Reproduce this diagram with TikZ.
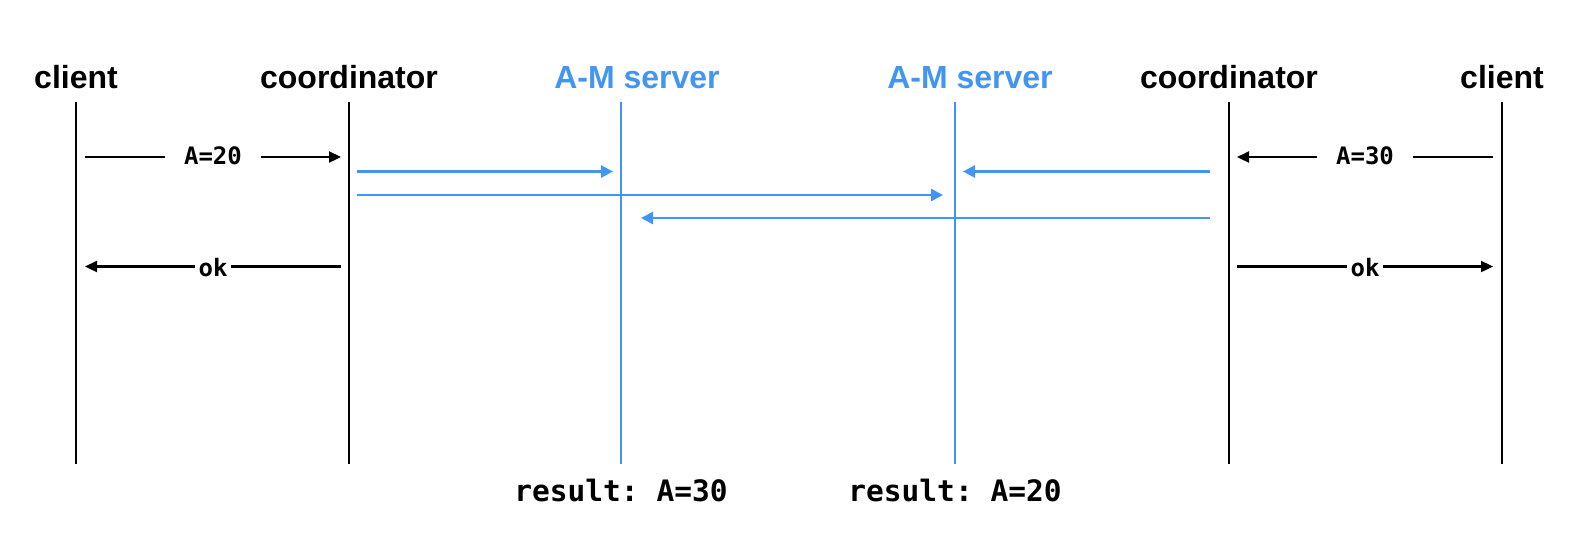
\documentclass[tikz,border=0pt]{standalone}
\usepackage{fontspec}
\usetikzlibrary{arrows.meta}
\newfontfamily\hfont{Liberation Sans}
\newfontfamily\mfont{DejaVu Sans Mono}
\definecolor{srvblue}{RGB}{66,150,242}
\begin{document}
\begin{tikzpicture}[x=1pt,y=-1pt,
  lifeline/.style={line width=2.7pt},
  srvline/.style={line width=2.4pt,draw=srvblue},
  title/.style={anchor=base,inner sep=0pt,font=\hfont\bfseries\fontsize{32}{38}\selectfont},
  srvtitle/.style={title,text=srvblue},
  msg/.style={line width=2.3pt,-{Triangle[length=12pt,width=11pt]}},
  srvmsg/.style={line width=2.8pt,draw=srvblue,-{Triangle[length=12pt,width=12pt]}},
  lbl/.style={fill=white,inner ysep=1pt,font=\mfont\bfseries\fontsize{24}{27}\selectfont},
  result/.style={anchor=base,inner sep=0pt,font=\mfont\bfseries\frenchspacing\fontsize{29.5}{34}\selectfont}
]
\useasboundingbox (0,0) rectangle (1574,550);
% titles
\node[title] (t1) at (76,88) {client};
\node[title] (t2) at (349,88) {coordinator};
\node[srvtitle] (t3) at (637,88) {A-M server};
\node[srvtitle] (t4) at (970,88) {A-M server};
\node[title] (t5) at (1229,88) {coordinator};
\node[title] (t6) at (1502,88) {client};
% lifelines
\coordinate (l1t) at (76,102);   \coordinate (l1b) at (76,464);
\coordinate (l2t) at (349,102);  \coordinate (l2b) at (349,464);
\coordinate (l3t) at (621,102);  \coordinate (l3b) at (621,464);
\coordinate (l4t) at (955,102);  \coordinate (l4b) at (955,464);
\coordinate (l5t) at (1229,102); \coordinate (l5b) at (1229,464);
\coordinate (l6t) at (1502,102); \coordinate (l6b) at (1502,464);
\draw[lifeline] (l1t) -- (l1b);
\draw[lifeline] (l2t) -- (l2b);
\draw[srvline] (l3t) -- (l3b);
\draw[srvline] (l4t) -- (l4b);
\draw[lifeline] (l5t) -- (l5b);
\draw[lifeline] (l6t) -- (l6b);
% client <-> coordinator messages
\coordinate (m1s) at (85,157);   \coordinate (m1e) at (341,157);
\coordinate (m2s) at (341,266.5); \coordinate (m2e) at (85,266.5);
\coordinate (m3s) at (1493,157); \coordinate (m3e) at (1237,157);
\coordinate (m4s) at (1237,266.5); \coordinate (m4e) at (1493,266.5);
\draw[msg] (m1s) -- node[lbl,inner xsep=19pt,yshift=1.5pt] (a20) {A=20} (m1e);
\draw[msg] (m2s) -- node[lbl,inner xsep=4pt,yshift=-1pt] (ok1) {ok} (m2e);
\draw[msg] (m3s) -- node[lbl,inner xsep=19pt,yshift=1.5pt] (a30) {A=30} (m3e);
\draw[msg] (m4s) -- node[lbl,inner xsep=4pt,yshift=-1pt] (ok2) {ok} (m4e);
% coordinator -> servers
\coordinate (b1s) at (357,171.5);  \coordinate (b1e) at (613,171.5);
\coordinate (b2s) at (357,195);    \coordinate (b2e) at (943,195);
\coordinate (b3s) at (1210,171.5); \coordinate (b3e) at (963,171.5);
\coordinate (b4s) at (1210,218);   \coordinate (b4e) at (641,218);
\draw[srvmsg] (b1s) -- (b1e);
\draw[srvmsg] (b2s) -- (b2e);
\draw[srvmsg] (b3s) -- (b3e);
\draw[srvmsg] (b4s) -- (b4e);
% results
\node[result] (r1) at (621,501) {result: A=30};
\node[result] (r2) at (955,501) {result: A=20};
\end{tikzpicture}
\end{document}
